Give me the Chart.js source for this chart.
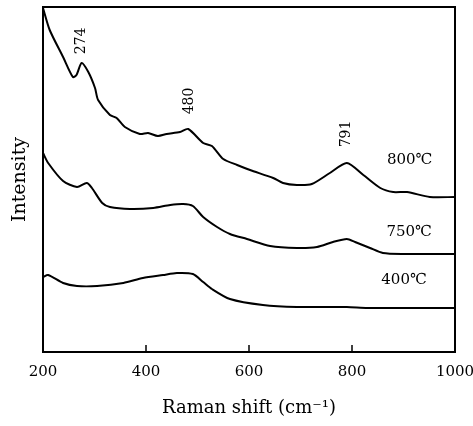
<!DOCTYPE html>
<html>
<head>
<meta charset="utf-8">
<script src="https://cdn.jsdelivr.net/npm/chart.js@4"></script>
<style>
  html, body { margin: 0; padding: 0; background: #fff; }
  #wrap { width: 473px; height: 426px; }
</style>
</head>
<body>
<div id="wrap"><canvas id="chart"></canvas></div>
<script>
// Raman shift (cm-1) sample points and intensity (arb. units) for each sample
const shift800 = [200,213,239,258,265,275,288,301,307,330,343,359,388,404,423,440,466,482,511,528,550,577,602,647,666,693,722,757,790,822,855,880,907,951,1000];
const int800 = [344,322,295,275,277,289,280,264,252,237,234,225,218,219,216,218,220,223,209,206,193,187,182,174,169,167,168,179,189,177,164,160,160,155,155];

const shift750 = [200,210,239,266,285,295,315,330,369,414,447,472,491,511,538,563,596,641,693,732,763,790,806,835,860,899,1000];
const int750 = [199,189,171,165,169,164,149,145,143,144,147,148,146,135,125,118,113,106,104,105,110,113,110,104,99,98,98];

const shift400 = [200,210,239,266,305,356,394,433,460,491,511,528,563,627,693,790,830,1000];
const int400 = [75,77,69,66,66,69,74,77,79,78,70,63,53,47,45,45,44,44];

const xTicks = [200, 400, 600, 800, 1000];

// peak annotations: position in data units
const peakText = ['274', '480', '791'];
const peakX = [274, 484, 790];
const peakY = [311, 251, 218];

// sample temperature labels
const tempText = ['800\u2103', '750\u2103', '400\u2103'];
const tempX = [912, 911, 901];
const tempY = [192, 120, 72];

const serif = "'DejaVu Serif', 'Liberation Serif', serif";

const toPoints = (xs, ys) => xs.map((x, i) => ({ x: x, y: ys[i] }));

const lineStyle = {
  borderColor: '#000',
  borderWidth: 2,
  pointRadius: 0,
  tension: 0.25,
  fill: false
};

const framePlugin = {
  id: 'frame',
  afterDraw(chart) {
    const ctx = chart.ctx;
    const a = chart.chartArea;
    const xs = chart.scales.x;
    const ys = chart.scales.y;
    ctx.save();
    ctx.strokeStyle = '#000';
    ctx.lineWidth = 2;
    ctx.strokeRect(a.left, a.top, a.right - a.left, a.bottom - a.top);
    // inward ticks on the bottom axis
    ctx.lineWidth = 1.5;
    xTicks.slice(1, -1).forEach(v => {
      const px = xs.getPixelForValue(v);
      ctx.beginPath();
      ctx.moveTo(px, a.bottom);
      ctx.lineTo(px, a.bottom - 7);
      ctx.stroke();
    });
    ctx.fillStyle = '#000';
    ctx.textAlign = 'center';
    ctx.textBaseline = 'middle';
    // rotated peak labels
    ctx.font = '14px ' + serif;
    peakText.forEach((t, i) => {
      ctx.save();
      ctx.translate(xs.getPixelForValue(peakX[i]), ys.getPixelForValue(peakY[i]));
      ctx.rotate(-Math.PI / 2);
      ctx.fillText(t, 0, 0);
      ctx.restore();
    });
    ctx.font = '15px ' + serif;
    tempText.forEach((t, i) => {
      ctx.fillText(t, xs.getPixelForValue(tempX[i]), ys.getPixelForValue(tempY[i]));
    });
    ctx.restore();
  }
};

new Chart(document.getElementById('chart'), {
  type: 'line',
  data: {
    datasets: [
      { label: '800', data: toPoints(shift800, int800), ...lineStyle },
      { label: '750', data: toPoints(shift750, int750), ...lineStyle },
      { label: '400', data: toPoints(shift400, int400), ...lineStyle }
    ]
  },
  options: {
    responsive: true,
    maintainAspectRatio: false,
    animation: false,
    layout: { padding: { left: 0, right: 18, top: 7, bottom: 0 } },
    plugins: {
      legend: { display: false },
      tooltip: { enabled: false }
    },
    scales: {
      x: {
        type: 'linear',
        min: 200,
        max: 1000,
        afterBuildTicks: s => { s.ticks = xTicks.map(v => ({ value: v })); },
        afterFit: s => { s.height = 74; s.paddingLeft = 0; s.paddingRight = 0; },
        grid: { display: false },
        border: { display: false },
        ticks: {
          color: '#000',
          padding: 3,
          font: { family: serif, size: 15 },
          callback: v => String(v)
        },
        title: {
          display: true,
          text: 'Raman shift (cm\u207B\u00B9)',
          color: '#000',
          font: { family: serif, size: 18 },
          padding: { top: 0, bottom: 7 }
        }
      },
      y: {
        min: 0,
        max: 345,
        afterFit: s => { s.width = 43; },
        grid: { display: false },
        border: { display: false },
        ticks: { display: false },
        title: {
          display: true,
          text: 'Intensity',
          color: '#000',
          font: { family: serif, size: 19 },
          padding: { top: 9, bottom: 0 }
        }
      }
    }
  },
  plugins: [framePlugin]
});
</script>
</body>
</html>
